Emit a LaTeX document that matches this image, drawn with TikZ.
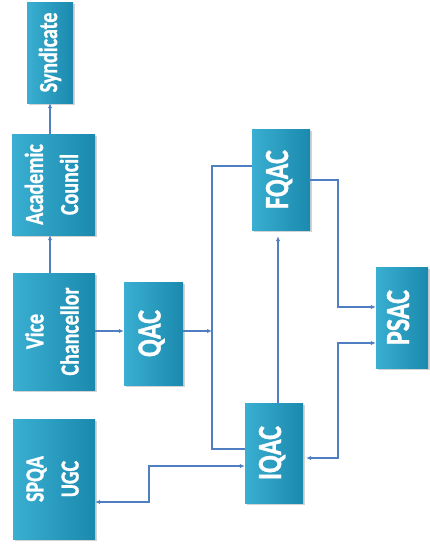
\documentclass[tikz,border=0pt]{standalone}
\usepackage{fontspec}
\setmainfont{Carlito}[BoldFeatures={FakeBold=1.2}]
\usetikzlibrary{arrows.meta,shadows,calc}
\definecolor{boxlight}{HTML}{3AAFD1}
\definecolor{boxdark}{HTML}{1A89AD}
\definecolor{linec}{HTML}{4F7FC2}
\newcommand{\rtext}[2]{\rotatebox{90}{\scalebox{1}[1.3]{\fontsize{#1}{27}\selectfont\bfseries\begin{tabular}{@{}c@{}}#2\end{tabular}}}}
\begin{document}
\begin{tikzpicture}[x=1pt,y=-1pt,
  orgbox/.style={rectangle, draw=none, left color=boxlight, right color=boxdark,
    text=white, inner sep=0pt,
    drop shadow={shadow xshift=1.5pt, shadow yshift=-1.5pt, opacity=0.35},
    minimum width=#1},
  conn/.style={draw=linec, line width=2pt},
  tip/.style={-{Latex[length=5pt,width=4.5pt]}},
  dtip/.style={{Latex[length=5pt,width=4.5pt]}-{Latex[length=5pt,width=4.5pt]}}]
\useasboundingbox (0,0) rectangle (430,549);
\node[orgbox=46pt, minimum height=101pt] (syn) at (50,52.5) {\rtext{20}{Syndicate}};
\node[orgbox=83pt, minimum height=101pt] (ac) at (53.5,184.5) {\rtext{20}{Academic\\Council}};
\node[orgbox=82pt, minimum height=117pt] (vc) at (54,331.5) {\rtext{20}{Vice\\Chancellor}};
\node[orgbox=82pt, minimum height=120pt] (sp) at (54,479) {\rtext{20}{SPQA\\UGC}};
\node[orgbox=59pt, minimum height=103pt] (qac) at (153.5,333.5) {\rtext{26}{QAC}};
\node[orgbox=58pt, minimum height=101pt] (fq) at (281,179.5) {\rtext{26}{FQAC}};
\node[orgbox=58pt, minimum height=100pt] (iq) at (274,453) {\rtext{26}{IQAC}};
\node[orgbox=52pt, minimum height=101pt] (ps) at (402,317.5) {\rtext{26}{PSAC}};
\coordinate (bus) at (212,331);
\coordinate (jr) at (338,0);
\coordinate (jl) at (149,0);
\coordinate (fqa) at ([yshift=13.5pt]fq.west);
\coordinate (iqb) at ([yshift=4pt]iq.west);
\coordinate (psa) at ([yshift=10.5pt]ps.west);
\coordinate (psb) at ([yshift=-25.5pt]ps.west);
\coordinate (iqr) at ([yshift=-5pt]iq.east);
\coordinate (iqa) at ([yshift=-13pt]iq.west);
\coordinate (spa) at ([yshift=-23pt]sp.east);
% vertical chain
\draw[conn,tip] (ac.north -| syn.south) -- (syn.south);
\draw[conn,tip] (vc.north -| syn.south) -- (ac.south -| syn.south);
% VC -> QAC -> bus
\draw[conn,tip] (vc.east |- bus) -- (qac.west |- bus);
\draw[conn,tip] (qac.east |- bus) -- (bus);
% bus
\draw[conn] (fqa) -| (bus |- iqb) -- (iqb);
% IQAC -> FQAC
\draw[conn,tip,shorten >=6pt] ([xshift=4pt]iq.north) -- ([xshift=4pt]iq.north |- fq.south);
% FQAC -> PSAC
\draw[conn,tip] (fq.east) -| (jr |- psa) -- (psa);
% PSAC <-> IQAC
\draw[conn,dtip,shorten >=3pt] (psb) -| (jr |- iqr) -- (iqr);
% IQAC <-> SPQA
\draw[conn,dtip] (iqa) -| (jl |- spa) -- (spa);
\end{tikzpicture}
\end{document}
